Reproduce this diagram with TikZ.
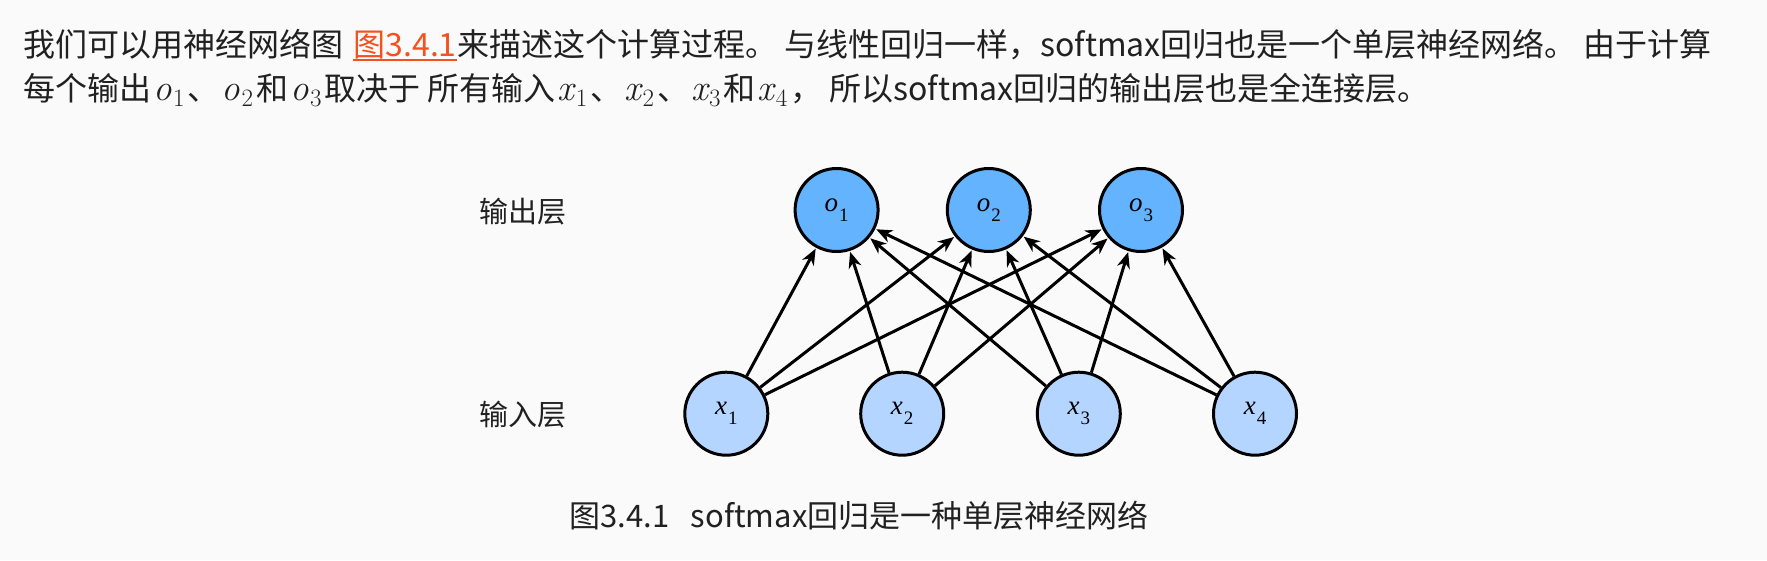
\documentclass[tikz,border=0pt]{standalone}
\usepackage{fontspec}
\setmainfont{Noto Sans CJK SC}
\newfontfamily\nodeserif{Liberation Serif}
\newfontfamily\lmfont{Latin Modern Roman}
\usetikzlibrary{arrows.meta}
\definecolor{bgc}{HTML}{FAFAFA}
\definecolor{outc}{HTML}{63B3FF}
\definecolor{inc}{HTML}{B3D5FF}
\definecolor{linkc}{HTML}{F4511E}
\definecolor{txtc}{HTML}{212121}
\newcommand{\nlab}[2]{{\nodeserif\itshape #1}\kern1pt\raisebox{-10pt}{\fontsize{19}{19}\selectfont\nodeserif #2}}
\newcommand{\mv}[2]{\kern2pt{\lmfont\fontsize{37}{40}\selectfont\itshape #1\kern1.5pt\raisebox{-6pt}{\fontsize{25}{25}\selectfont\upshape #2}}\kern3pt}
\begin{document}
\begin{tikzpicture}[x=1pt,y=-1pt,
  bodytext/.style={anchor=base west, inner sep=0pt, text=txtc, font=\fontsize{32}{38}\selectfont},
  layerlabel/.style={inner sep=0pt, text=txtc, font=\fontsize{29}{34}\selectfont},
  neuron/.style={circle, draw=black, line width=3pt, minimum size=83pt, inner sep=0pt, font=\fontsize{27}{30}\selectfont},
  outn/.style={neuron, fill=outc},
  inn/.style={neuron, fill=inc},
  conn/.style={line width=3pt, -{Stealth[length=16pt,width=13pt,inset=5pt]}, shorten >=1pt}
]
\fill[bgc] (0,0) rectangle (1767,560);
\useasboundingbox (0,0) rectangle (1767,560);

% paragraph
\node[bodytext] (l1a) at (23,56) {我们可以用神经网络图};
\node[bodytext, text=linkc, xshift=10pt] (lk) at (l1a.base east) {图3.4.1};
\node[bodytext] (l1b) at (lk.base east) {来描述这个计算过程。 与线性回归一样，softmax回归也是一个单层神经网络。 由于计算};
\draw[linkc, line width=2.5pt] ([yshift=-4pt]lk.base west) -- ([yshift=-4pt]lk.base east);
\node[bodytext] (l2) at (23,100) {每个输出\mv{o}{1}、\mv{o}{2}和\mv{o}{3}取决于 所有输入\mv{x}{1}、\mv{x}{2}、\mv{x}{3}和\mv{x}{4}， 所以softmax回归的输出层也是全连接层。};

% layer labels
\node[layerlabel] (outlab) at (523,212) {输出层};
\node[layerlabel] (inlab) at (523,415) {输入层};

% neurons
\node[outn] (o1) at (836.6,210) {\nlab{o}{1}};
\node[outn] (o2) at (988.8,210) {\nlab{o}{2}};
\node[outn] (o3) at (1141,210) {\nlab{o}{3}};
\node[inn] (x1) at (726.3,413.7) {\nlab{x}{1}};
\node[inn] (x2) at (902.2,413.7) {\nlab{x}{2}};
\node[inn] (x3) at (1078.8,413.7) {\nlab{x}{3}};
\node[inn] (x4) at (1255,413.7) {\nlab{x}{4}};

% connections
\foreach \i in {1,2,3,4}{
  \foreach \j in {1,2,3}{
    \draw[conn] (x\i) -- (o\j);
  }
}

% caption
\node[layerlabel, font=\fontsize{31}{36}\selectfont] (cap) at (859,516) {图3.4.1\hspace{0.7em}softmax回归是一种单层神经网络};
\end{tikzpicture}
\end{document}
